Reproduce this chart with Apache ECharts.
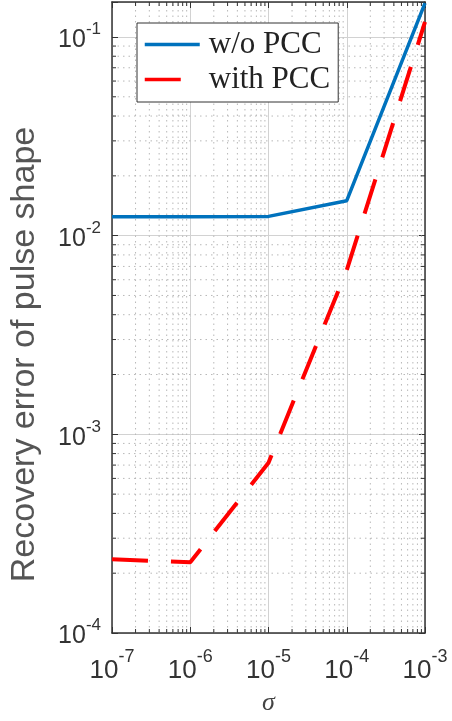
<!DOCTYPE html>
<html>
<head>
<meta charset="utf-8">
<script src="https://cdn.jsdelivr.net/npm/echarts@6/dist/echarts.min.js"></script>
<style>
  html, body { margin: 0; padding: 0; background: #fff; }
  #chart { width: 452px; height: 721px; }
</style>
</head>
<body>
<div id="chart"></div>
<script>
// data
const sigma = [1e-7, 1e-6, 1e-5, 1e-4, 1e-3]
const errWithoutPCC = [0.01245, 0.01245, 0.0125, 0.0150, 0.148]
const errWithPCC = [2.35e-4, 2.27e-4, 7.2e-4, 6.7e-3, 0.119]
const seriesNames = ['w/o PCC', 'with PCC']

// axis ranges
const xRange = [1e-7, 1e-3]
const yRange = [1e-4, 0.15]
const minorMultipliers = [2, 3, 4, 5, 6, 7, 8, 9]

function minorValues(lo, hi) {
  const out = []
  for (let e = Math.floor(Math.log10(lo)); e < Math.ceil(Math.log10(hi)); e++) {
    for (const k of minorMultipliers) {
      const v = k * Math.pow(10, e)
      if (v > lo && v < hi) out.push(v)
    }
  }
  return out
}

// minor grid / minor ticks: [x, y, kind] kind 0 = vertical, 1 = horizontal
const minorData = []
minorValues(xRange[0], xRange[1]).forEach(v => minorData.push([v, yRange[0], 0]))
minorValues(yRange[0], yRange[1]).forEach(v => minorData.push([xRange[0], v, 1]))

function powLabel(value) {
  const n = Math.round(Math.log10(value))
  if (Math.abs(Math.log10(value) - n) > 1e-6) return ''
  return '{b|10}{s|' + n + '}'
}

const tickColor = '#333'

const chart = echarts.init(document.getElementById('chart'))

chart.setOption({
  animation: false,
  backgroundColor: '#fff',
  grid: { left: 108, right: 27, top: 2, bottom: 86, containLabel: false },
  legend: {
    data: seriesNames,
    orient: 'vertical',
    left: 137,
    top: 23,
    backgroundColor: '#fff',
    borderColor: '#333',
    borderWidth: 1,
    borderRadius: 0,
    padding: [6, 8, 7, 6],
    itemWidth: 55,
    itemHeight: 24,
    itemGap: 4,
    selectedMode: false,
    itemStyle: { opacity: 0 },
    lineStyle: { width: 3.5 },
    textStyle: {
      fontFamily: 'Liberation Serif',
      fontSize: 31,
      lineHeight: 24,
      color: '#222',
      padding: [0, 0, 0, 4]
    }
  },
  xAxis: [{
    type: 'log',
    logBase: 10,
    min: xRange[0],
    max: xRange[1],
    name: 'σ',
    nameLocation: 'middle',
    nameGap: 57,
    nameTextStyle: {
      fontFamily: 'Liberation Serif',
      fontStyle: 'italic',
      fontSize: 26,
      color: '#444'
    },
    axisLine: { lineStyle: { color: tickColor, width: 1.5 } },
    axisTick: { inside: true, length: 6, lineStyle: { color: tickColor } },
    axisLabel: {
      margin: 15,
      formatter: powLabel,
      rich: {
        b: { fontFamily: 'Liberation Sans', fontSize: 26, lineHeight: 36, color: '#333', verticalAlign: 'bottom' },
        s: { fontFamily: 'Liberation Sans', fontSize: 18, lineHeight: 18, color: '#333', verticalAlign: 'top' }
      }
    },
    splitLine: { show: true, lineStyle: { color: '#d2d2d2', width: 1 } }
  }, {
    type: 'log',
    logBase: 10,
    position: 'top',
    min: xRange[0],
    max: xRange[1],
    axisLine: { lineStyle: { color: tickColor, width: 1.5 } },
    axisTick: { inside: true, length: 6, lineStyle: { color: tickColor } },
    axisLabel: { show: false },
    splitLine: { show: false }
  }],
  yAxis: [{
    type: 'log',
    logBase: 10,
    min: yRange[0],
    max: yRange[1],
    name: 'Recovery error of pulse shape',
    nameLocation: 'middle',
    nameGap: 70,
    nameTextStyle: {
      fontFamily: 'Liberation Sans',
      fontSize: 34,
      color: '#555',
      padding: [0, 74, 0, 0]
    },
    axisLine: { lineStyle: { color: tickColor, width: 1.5 } },
    axisTick: { inside: true, length: 6, lineStyle: { color: tickColor } },
    axisLabel: {
      margin: 11,
      formatter: powLabel,
      rich: {
        b: { fontFamily: 'Liberation Sans', fontSize: 25, lineHeight: 32, color: '#333', verticalAlign: 'bottom' },
        s: { fontFamily: 'Liberation Sans', fontSize: 17, lineHeight: 15, color: '#333', verticalAlign: 'top' }
      }
    },
    splitLine: { show: true, lineStyle: { color: '#d2d2d2', width: 1 } }
  }, {
    type: 'log',
    logBase: 10,
    position: 'right',
    min: yRange[0],
    max: yRange[1],
    axisLine: { lineStyle: { color: tickColor, width: 1.5 } },
    axisTick: { inside: true, length: 6, lineStyle: { color: tickColor } },
    axisLabel: { show: false },
    splitLine: { show: false }
  }],
  series: [{
    type: 'custom',
    silent: true,
    z: 1,
    xAxisIndex: 0,
    yAxisIndex: 0,
    data: minorData,
    renderItem: function (params, api) {
      const kind = api.value(2)
      const dotted = { stroke: '#b8b8b8', lineWidth: 1, lineDash: [1.5, 4] }
      const tick = { stroke: tickColor, lineWidth: 1 }
      let a, b, t1, t2
      if (kind === 0) {
        const v = api.value(0)
        a = api.coord([v, yRange[0]])
        b = api.coord([v, yRange[1]])
        t1 = [a[0], a[1] - 4]
        t2 = [b[0], b[1] + 4]
      } else {
        const v = api.value(1)
        a = api.coord([xRange[0], v])
        b = api.coord([xRange[1], v])
        t1 = [a[0] + 4, a[1]]
        t2 = [b[0] - 4, b[1]]
      }
      return {
        type: 'group',
        children: [
          { type: 'line', shape: { x1: a[0], y1: a[1], x2: b[0], y2: b[1] }, style: dotted },
          { type: 'line', shape: { x1: a[0], y1: a[1], x2: t1[0], y2: t1[1] }, style: tick },
          { type: 'line', shape: { x1: b[0], y1: b[1], x2: t2[0], y2: t2[1] }, style: tick }
        ]
      }
    }
  }, {
    name: seriesNames[0],
    type: 'line',
    z: 3,
    symbol: 'none',
    data: sigma.map((x, i) => [x, errWithoutPCC[i]]),
    itemStyle: { color: '#0072BD' },
    lineStyle: { color: '#0072BD', width: 3.5 }
  }, {
    name: seriesNames[1],
    type: 'line',
    z: 4,
    symbol: 'none',
    data: sigma.map((x, i) => [x, errWithPCC[i]]),
    itemStyle: { color: '#FF0000' },
    lineStyle: { color: '#FF0000', width: 4, type: [36, 23] }
  }]
})
</script>
</body>
</html>
